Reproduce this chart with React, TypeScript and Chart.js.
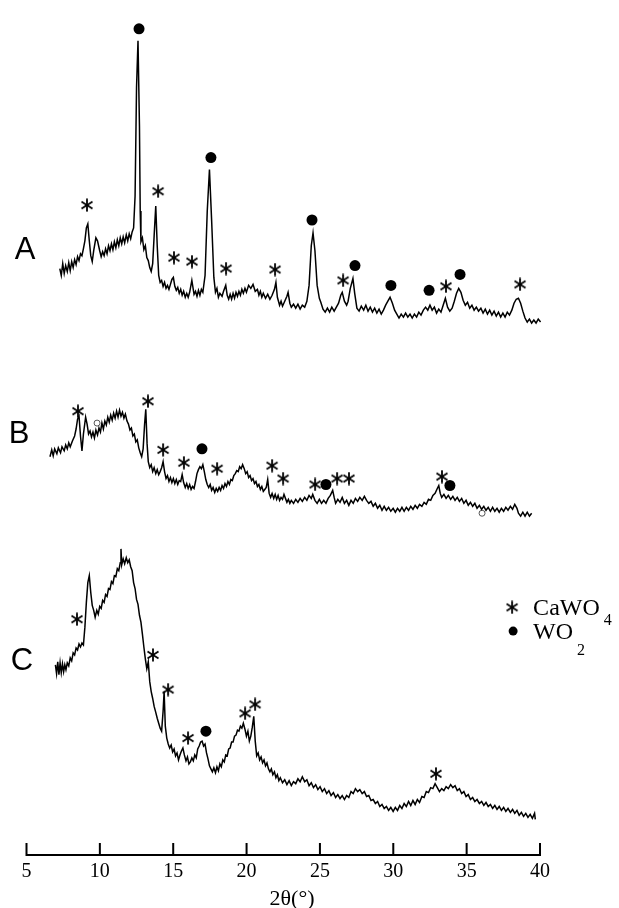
import React, { useEffect, useRef } from "react";
import { Chart, registerables } from "chart.js";
Chart.register(...registerables);

// 2θ (deg), intensity (a.u., offset traces)
const traceA: [number, number][] = [
  [7.27,592],[7.37,585],[7.47,597],[7.57,587],[7.67,595],[7.78,589],[7.88,598],[7.98,590],[8.08,599],[8.18,593],
  [8.28,601],[8.38,596],[8.48,604],[8.58,600],[8.68,607],[8.78,605],[8.88,612],[8.98,620],[9.08,633],[9.18,637],
  [9.28,620],[9.38,605],[9.48,599],[9.58,610],[9.73,623],[9.84,620],[9.99,610],[10.09,604],[10.19,609],[10.29,605],
  [10.39,612],[10.49,607],[10.59,615],[10.69,610],[10.79,617],[10.89,611],[10.99,619],[11.09,613],[11.19,621],[11.29,615],
  [11.39,623],[11.49,617],[11.59,624],[11.69,618],[11.80,626],[11.90,620],[12.00,627],[12.10,622],[12.20,629],[12.30,633],
  [12.40,665],[12.50,775],[12.60,822],[12.70,735],[12.75,650],[12.80,619],[12.90,623],[13.00,611],[13.10,615],[13.20,603],
  [13.30,600],[13.40,593],[13.50,589],[13.60,597],[13.70,625],[13.81,655],[13.91,615],[14.01,585],[14.11,578],[14.21,580],
  [14.31,574],[14.41,578],[14.51,572],[14.61,575],[14.71,571],[14.81,576],[14.91,581],[15.01,583],[15.11,574],[15.21,570],
  [15.31,573],[15.41,567],[15.51,571],[15.61,565],[15.71,569],[15.82,563],[15.92,567],[16.02,563],[16.12,568],[16.27,580],
  [16.42,566],[16.52,569],[16.62,564],[16.72,570],[16.82,565],[16.92,571],[17.02,568],[17.17,585],[17.32,650],[17.47,692],
  [17.62,640],[17.77,583],[17.88,568],[17.98,572],[18.08,563],[18.18,567],[18.33,564],[18.43,569],[18.58,575],[18.68,565],
  [18.78,561],[18.88,566],[18.98,561],[19.08,567],[19.18,562],[19.28,568],[19.38,564],[19.48,569],[19.58,565],[19.68,571],
  [19.78,567],[19.89,572],[19.99,568],[20.14,575],[20.29,572],[20.44,576],[20.59,569],[20.74,571],[20.84,565],[20.94,569],
  [21.04,563],[21.14,567],[21.29,562],[21.44,566],[21.59,561],[21.74,565],[21.90,571],[22.00,578],[22.10,563],[22.25,555],
  [22.35,559],[22.45,554],[22.60,559],[22.75,564],[22.83,568],[22.95,557],[23.05,553],[23.20,556],[23.35,552],[23.50,556],
  [23.65,551],[23.80,555],[23.96,553],[24.11,559],[24.26,575],[24.41,615],[24.53,628],[24.66,610],[24.81,575],[24.96,562],
  [25.06,558],[25.21,551],[25.36,548],[25.51,552],[25.66,548],[25.81,553],[25.97,549],[26.12,553],[26.27,557],[26.42,565],
  [26.52,568],[26.67,559],[26.82,555],[26.92,559],[27.07,572],[27.25,582],[27.37,567],[27.52,552],[27.67,549],[27.82,554],
  [27.98,550],[28.13,555],[28.28,549],[28.43,553],[28.58,548],[28.73,552],[28.88,547],[29.03,551],[29.18,546],[29.33,550],
  [29.48,555],[29.63,559],[29.78,563],[29.94,557],[30.09,550],[30.24,546],[30.39,542],[30.54,546],[30.69,543],[30.84,547],
  [30.99,543],[31.14,546],[31.29,542],[31.44,546],[31.59,543],[31.74,548],[31.89,545],[32.05,550],[32.20,553],[32.35,550],
  [32.50,555],[32.65,550],[32.80,553],[32.95,547],[33.10,551],[33.25,548],[33.40,555],[33.55,562],[33.70,553],[33.85,549],
  [34.01,552],[34.16,559],[34.31,567],[34.46,572],[34.61,568],[34.76,560],[34.91,555],[35.06,558],[35.21,552],[35.36,555],
  [35.51,550],[35.66,553],[35.81,549],[35.97,552],[36.12,547],[36.27,551],[36.42,546],[36.57,550],[36.72,545],[36.87,549],
  [37.02,544],[37.17,548],[37.32,543],[37.47,547],[37.62,543],[37.77,548],[37.92,545],[38.08,550],[38.23,557],[38.38,561],
  [38.53,562],[38.68,557],[38.83,549],[38.98,542],[39.13,538],[39.28,541],[39.43,537],[39.58,540],[39.73,537],[39.88,541],
  [40.04,538],[40.19,542],[40.34,547]
];

const traceB: [number, number][] = [
  [6.60,402],[6.72,409],[6.82,403],[6.92,410],[7.07,405],[7.17,411],[7.32,406],[7.42,412],[7.57,408],[7.67,414],
  [7.78,410],[7.88,416],[7.98,412],[8.13,418],[8.28,423],[8.38,430],[8.48,440],[8.58,443],[8.68,423],[8.78,408],
  [8.88,425],[9.03,442],[9.13,435],[9.23,425],[9.33,428],[9.43,422],[9.53,427],[9.63,421],[9.73,429],[9.84,424],
  [9.94,431],[10.04,427],[10.14,436],[10.24,430],[10.34,438],[10.44,434],[10.54,442],[10.64,437],[10.74,444],[10.84,439],
  [10.94,446],[11.04,441],[11.14,448],[11.24,442],[11.34,449],[11.44,443],[11.54,447],[11.64,441],[11.74,445],[11.85,438],
  [11.95,435],[12.05,429],[12.15,431],[12.25,423],[12.35,425],[12.45,417],[12.55,419],[12.65,411],[12.75,406],[12.85,402],
  [12.95,410],[13.05,435],[13.13,450],[13.22,415],[13.30,397],[13.40,391],[13.50,394],[13.60,387],[13.70,391],[13.81,385],
  [13.91,389],[14.01,384],[14.11,387],[14.21,391],[14.31,397],[14.41,387],[14.51,380],[14.61,383],[14.71,377],[14.81,381],
  [14.91,376],[15.01,380],[15.11,375],[15.21,379],[15.31,374],[15.41,378],[15.51,377],[15.61,384],[15.71,376],[15.82,371],
  [15.92,375],[16.02,370],[16.12,374],[16.22,369],[16.32,372],[16.42,370],[16.52,377],[16.62,385],[16.72,389],[16.82,392],
  [16.92,390],[17.02,394],[17.12,387],[17.22,379],[17.32,374],[17.42,371],[17.52,374],[17.62,368],[17.72,371],[17.83,366],
  [17.93,370],[18.03,367],[18.13,371],[18.23,368],[18.33,373],[18.43,370],[18.53,375],[18.63,372],[18.73,377],[18.83,374],
  [18.93,379],[19.03,378],[19.13,383],[19.23,385],[19.33,388],[19.43,387],[19.53,392],[19.63,390],[19.73,394],[19.84,390],
  [19.94,385],[20.04,387],[20.14,381],[20.24,383],[20.34,378],[20.44,380],[20.54,375],[20.64,377],[20.74,372],[20.84,374],
  [20.94,369],[21.04,372],[21.14,367],[21.24,369],[21.34,371],[21.44,379],[21.54,365],[21.64,361],[21.74,365],[21.85,360],
  [21.95,364],[22.05,359],[22.15,363],[22.25,358],[22.35,361],[22.45,359],[22.55,364],[22.65,360],[22.75,356],[22.85,359],
  [22.95,355],[23.05,358],[23.20,355],[23.35,359],[23.50,356],[23.65,360],[23.80,357],[23.96,361],[24.11,358],[24.26,363],
  [24.41,360],[24.51,364],[24.66,358],[24.81,355],[24.96,359],[25.11,355],[25.26,358],[25.41,355],[25.56,360],[25.71,363],
  [25.87,368],[25.97,361],[26.07,355],[26.22,359],[26.37,356],[26.52,361],[26.67,355],[26.82,358],[26.97,353],[27.12,358],
  [27.27,355],[27.42,360],[27.57,357],[27.72,361],[27.88,358],[28.03,362],[28.18,358],[28.33,355],[28.48,357],[28.63,352],
  [28.78,355],[28.93,350],[29.08,353],[29.23,348],[29.38,352],[29.53,348],[29.68,351],[29.83,347],[29.99,350],[30.14,346],
  [30.29,350],[30.44,347],[30.59,351],[30.74,347],[30.89,351],[31.04,348],[31.19,352],[31.34,349],[31.49,353],[31.64,350],
  [31.79,354],[31.95,352],[32.10,356],[32.25,354],[32.40,359],[32.55,358],[32.70,363],[32.85,365],[33.00,370],[33.10,373],
  [33.20,365],[33.30,361],[33.45,364],[33.60,360],[33.75,363],[33.91,359],[34.06,362],[34.21,358],[34.36,361],[34.51,357],
  [34.66,360],[34.81,355],[34.96,358],[35.11,353],[35.26,356],[35.41,352],[35.56,355],[35.71,350],[35.87,353],[36.02,349],
  [36.17,352],[36.32,348],[36.47,351],[36.62,347],[36.77,351],[36.92,347],[37.07,350],[37.22,346],[37.37,350],[37.52,347],
  [37.67,351],[37.82,348],[37.98,352],[38.13,349],[38.28,354],[38.43,350],[38.53,345],[38.68,342],[38.83,346],[38.98,342],
  [39.13,346],[39.28,342],[39.43,345]
];

const traceC: [number, number][] = [
  [6.97,192],[7.05,183],[7.13,195],[7.21,182],[7.29,194],[7.37,184],[7.45,193],[7.53,185],[7.61,192],[7.69,187],
  [7.78,194],[7.88,191],[7.98,199],[8.08,196],[8.18,204],[8.28,202],[8.38,209],[8.48,207],[8.58,213],[8.68,210],
  [8.78,214],[8.88,212],[8.98,230],[9.08,255],[9.18,275],[9.28,282],[9.38,265],[9.48,252],[9.58,247],[9.68,240],
  [9.79,247],[9.89,243],[9.99,251],[10.09,249],[10.19,257],[10.29,255],[10.39,263],[10.49,261],[10.59,269],[10.69,268],
  [10.79,276],[10.89,274],[10.99,282],[11.09,281],[11.19,289],[11.29,287],[11.39,295],[11.44,309],[11.49,293],[11.59,299],
  [11.69,294],[11.80,300],[11.90,295],[12.00,298],[12.10,291],[12.20,287],[12.30,275],[12.40,269],[12.50,258],[12.60,253],
  [12.70,242],[12.80,235],[12.90,223],[13.00,210],[13.10,198],[13.20,188],[13.30,195],[13.40,175],[13.50,165],[13.60,158],
  [13.70,150],[13.81,144],[13.91,138],[14.01,133],[14.11,128],[14.21,125],[14.31,145],[14.38,165],[14.46,130],[14.56,118],
  [14.66,112],[14.76,108],[14.86,111],[14.96,104],[15.06,107],[15.16,100],[15.26,103],[15.36,96],[15.46,101],[15.56,105],
  [15.66,108],[15.76,101],[15.87,95],[15.97,99],[16.07,92],[16.17,94],[16.27,98],[16.37,95],[16.47,101],[16.57,98],
  [16.67,107],[16.77,110],[16.87,114],[16.97,115],[17.07,110],[17.17,112],[17.27,103],[17.37,97],[17.47,90],[17.57,87],
  [17.67,84],[17.77,88],[17.88,83],[17.98,89],[18.08,85],[18.18,92],[18.28,89],[18.38,96],[18.48,94],[18.58,101],
  [18.68,100],[18.78,107],[18.88,108],[18.98,114],[19.08,114],[19.18,120],[19.28,121],[19.38,126],[19.48,125],[19.58,130],
  [19.68,128],[19.78,133],[19.89,127],[19.99,120],[20.09,125],[20.19,115],[20.29,120],[20.39,129],[20.49,140],[20.59,115],
  [20.69,100],[20.79,103],[20.89,96],[20.99,99],[21.09,93],[21.19,96],[21.29,90],[21.39,93],[21.49,87],[21.59,84],
  [21.69,87],[21.79,81],[21.90,84],[22.00,78],[22.10,81],[22.20,75],[22.30,78],[22.45,73],[22.60,76],[22.75,71],
  [22.90,75],[23.05,70],[23.20,74],[23.35,72],[23.50,77],[23.65,74],[23.80,79],[23.96,74],[24.11,76],[24.26,70],
  [24.41,73],[24.56,68],[24.71,71],[24.86,66],[25.01,69],[25.16,64],[25.31,67],[25.46,62],[25.61,65],[25.76,60],
  [25.92,63],[26.07,58],[26.22,61],[26.37,57],[26.52,60],[26.67,56],[26.82,60],[26.97,58],[27.12,64],[27.27,62],
  [27.42,67],[27.57,64],[27.72,66],[27.88,62],[28.03,64],[28.18,59],[28.33,60],[28.48,55],[28.63,56],[28.78,52],
  [28.93,54],[29.08,49],[29.23,51],[29.38,47],[29.53,49],[29.68,45],[29.83,48],[29.99,44],[30.14,48],[30.29,45],
  [30.44,50],[30.59,47],[30.74,52],[30.89,49],[31.04,54],[31.19,50],[31.34,55],[31.49,51],[31.64,56],[31.79,53],
  [31.95,59],[32.10,58],[32.25,64],[32.40,63],[32.55,68],[32.70,67],[32.85,72],[33.00,68],[33.15,64],[33.30,67],
  [33.45,65],[33.60,69],[33.75,67],[33.91,71],[34.06,68],[34.21,70],[34.36,65],[34.51,67],[34.66,62],[34.81,64],
  [34.96,59],[35.11,61],[35.26,56],[35.41,58],[35.56,54],[35.71,56],[35.87,52],[36.02,54],[36.17,50],[36.32,53],
  [36.47,49],[36.62,51],[36.77,47],[36.92,50],[37.07,46],[37.22,49],[37.37,45],[37.52,48],[37.67,44],[37.82,47],
  [37.98,43],[38.13,46],[38.28,42],[38.43,45],[38.58,40],[38.73,43],[38.88,39],[39.03,42],[39.18,38],[39.33,41],
  [39.48,37],[39.63,42],[39.68,36]
];

// Phase markers (2θ, label height)
const caWO4Marks: [number, number][] = [
  [9.12,656],[13.97,670],[15.05,603],[16.28,599],[18.60,592],[21.94,591],[26.58,580],[33.59,574],[38.64,576],
  [8.51,448],[13.28,458],[14.31,409],[15.73,396],[17.99,390],[21.74,393],[22.49,380],[24.67,374],[26.17,380],[26.98,380],[33.32,382],
  [8.44,238],[13.62,202],[14.65,167],[16.01,118],[19.90,143],[20.58,152],[32.91,82]
];
const wo2Marks: [number, number][] = [
  [12.67,834],[17.57,704],[24.46,641],[27.39,595],[29.84,575],[32.44,570],[34.55,586],
  [16.96,410],[25.41,374],[33.86,373],
  [17.23,125]
];
const openMarks: [number, number][] = [[9.81,436],[36.05,345]];

const xTickValues = [5, 10, 15, 20, 25, 30, 35, 40];
const xMin = 5;
const xMax = 40;
const yMax = 855;
const axisTitle = "2θ(°)";
const axisTitleAt = 23.1;

// panel labels: [text, 2θ, height]
const panelLabels: [string, number, number][] = [["A", 4.9, 602], ["B", 4.49, 416], ["C", 4.69, 187]];
// legend entries: [name, subscript, 2θ, height]
const legendItems: [string, string, number, number][] = [["CaWO", "4", 38.1, 250], ["WO", "2", 38.1, 226]];

function makeStar(size: number, lw: number): HTMLCanvasElement {
  const c = document.createElement("canvas");
  c.width = size;
  c.height = size;
  const g = c.getContext("2d")!;
  g.strokeStyle = "#000";
  g.lineWidth = lw;
  const r = size / 2 - 0.5;
  const cx = size / 2;
  const cy = size / 2;
  [90, 32, 148].forEach((a) => {
    const rad = (a * Math.PI) / 180;
    g.beginPath();
    g.moveTo(cx - r * Math.cos(rad), cy - r * Math.sin(rad));
    g.lineTo(cx + r * Math.cos(rad), cy + r * Math.sin(rad));
    g.stroke();
  });
  return c;
}

const toXY = (arr: [number, number][]) => arr.map(([x, y]) => ({ x, y }));

export default function App() {
  const ref = useRef<HTMLCanvasElement | null>(null);
  useEffect(() => {
    if (!ref.current) return;
    const star = makeStar(14, 1.8);
    const traceStyle = {
      showLine: true,
      borderColor: "#000",
      borderWidth: 1.5,
      pointRadius: 0,
      tension: 0,
      clip: false as any,
    };
    const deco = {
      id: "deco",
      afterDatasetsDraw(chart: any) {
        const { ctx, chartArea, scales } = chart;
        const x = scales.x;
        const y = scales.y;
        const yb = chartArea.bottom;
        ctx.save();
        ctx.strokeStyle = "#000";
        ctx.lineWidth = 2;
        ctx.beginPath();
        ctx.moveTo(x.getPixelForValue(xMin) - 1, yb);
        ctx.lineTo(x.getPixelForValue(xMax) + 1, yb);
        xTickValues.forEach((t) => {
          const px = x.getPixelForValue(t);
          ctx.moveTo(px, yb);
          ctx.lineTo(px, yb - 12);
        });
        ctx.stroke();
        ctx.fillStyle = "#000";
        ctx.font = '22px "Liberation Serif"';
        ctx.textAlign = "center";
        ctx.textBaseline = "alphabetic";
        ctx.fillText(axisTitle, x.getPixelForValue(axisTitleAt), yb + 50);
        ctx.font = '31px "Liberation Sans"';
        panelLabels.forEach(([t, vx, vy]) => {
          ctx.fillText(t, x.getPixelForValue(vx), y.getPixelForValue(vy));
        });
        ctx.textAlign = "left";
        legendItems.forEach(([name, sub, vx, vy], i) => {
          const px = x.getPixelForValue(vx);
          const py = y.getPixelForValue(vy);
          if (i === 0) {
            ctx.drawImage(star, px - 7, py - 7, 14, 14);
          } else {
            ctx.beginPath();
            ctx.arc(px + 1, py, 4.5, 0, Math.PI * 2);
            ctx.fill();
          }
          ctx.font = '24px "Liberation Serif"';
          ctx.fillText(name, px + 21, py + 8);
          const w = ctx.measureText(name).width;
          ctx.font = '16px "Liberation Serif"';
          ctx.fillText(sub, px + 21 + w + 4, py + (i === 0 ? 18 : 24));
        });
        ctx.restore();
      },
    };
    const chart = new Chart(ref.current, {
      type: "scatter",
      data: {
        datasets: [
          { ...traceStyle, data: toXY(traceA) },
          { ...traceStyle, data: toXY(traceB) },
          { ...traceStyle, data: toXY(traceC) },
          {
            data: toXY(caWO4Marks),
            pointStyle: star as any,
            pointRadius: 7,
            showLine: false,
            clip: false as any,
          },
          {
            data: toXY(wo2Marks),
            pointStyle: "circle",
            pointRadius: 5.5,
            backgroundColor: "#000",
            borderColor: "#000",
            borderWidth: 0,
            showLine: false,
            clip: false as any,
          },
          {
            data: toXY(openMarks),
            pointStyle: "circle",
            pointRadius: 3,
            backgroundColor: "#fff",
            borderColor: "#555",
            borderWidth: 1,
            showLine: false,
            clip: false as any,
          },
        ],
      },
      options: {
        animation: false,
        responsive: false,
        events: [],
        layout: { padding: { left: 26.5, right: 79, top: 0, bottom: 19 } },
        plugins: { legend: { display: false }, tooltip: { enabled: false } },
        scales: {
          x: {
            type: "linear",
            min: xMin,
            max: xMax,
            afterBuildTicks: (axis: any) => {
              axis.ticks = xTickValues.map((v) => ({ value: v }));
            },
            ticks: {
              color: "#000",
              padding: 5,
              font: { family: '"Liberation Serif"', size: 20 },
            },
            grid: { display: false, drawTicks: false },
            border: { display: false },
          },
          y: {
            type: "linear",
            min: 0,
            max: yMax,
            display: false,
          },
        },
      },
      plugins: [deco],
    });
    return () => chart.destroy();
  }, []);
  return (
    <div style={{ position: "absolute", left: 0, top: 0, width: 619, height: 908, background: "#fff" }}>
      <canvas ref={ref} width={619} height={908} style={{ display: "block" }} />
    </div>
  );
}
